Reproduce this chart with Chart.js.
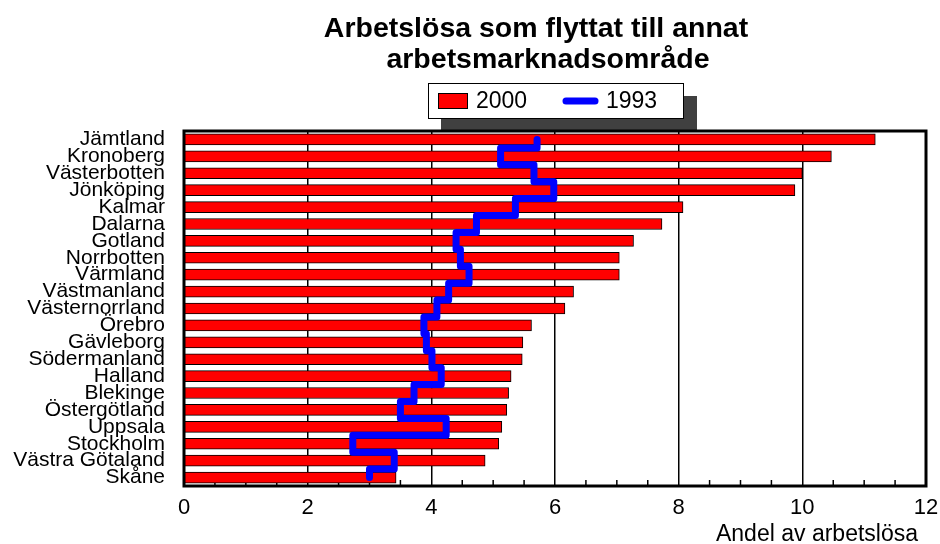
<!DOCTYPE html>
<html>
<head>
<meta charset="utf-8">
<script src="https://cdn.jsdelivr.net/npm/chart.js@4"></script>
<style>
html,body{margin:0;padding:0;background:#fff;}
#wrap{width:940px;height:544px;position:relative;}
</style>
</head>
<body>
<div id="wrap"><canvas id="c" width="940" height="544"></canvas></div>
<script>
const categories = ['Jämtland','Kronoberg','Västerbotten','Jönköping','Kalmar','Dalarna','Gotland','Norrbotten','Värmland','Västmanland','Västernorrland','Örebro','Gävleborg','Södermanland','Halland','Blekinge','Östergötland','Uppsala','Stockholm','Västra Götaland','Skåne'];
const values2000 = [11.18, 10.47, 10.0, 9.88, 8.07, 7.73, 7.27, 7.04, 7.04, 6.30, 6.16, 5.62, 5.48, 5.47, 5.29, 5.25, 5.22, 5.14, 5.09, 4.87, 3.43];
const values1993 = [5.71, 5.12, 5.66, 5.98, 5.36, 4.73, 4.40, 4.47, 4.61, 4.28, 4.09, 3.88, 3.92, 4.01, 4.16, 3.72, 3.50, 4.24, 2.73, 3.40, 3.00];
const xTickValues = [0, 2, 4, 6, 8, 10, 12];
const seriesNames = ['2000', '1993'];
const titleLines = ['Arbetslösa som flyttat till annat', 'arbetsmarknadsområde'];
const xAxisTitle = 'Andel av arbetslösa';

const FONT = '"Liberation Sans", Arial, Helvetica, sans-serif';

// bars: one per category index on a shared linear category-index axis
const barPoints = values2000.map((v, i) => ({ x: v, y: i }));
// step line for 1993: vertical across each category band, horizontal at band boundaries
const linePoints = [];
values1993.forEach((v, i) => {
  linePoints.push({ x: v, y: i === 0 ? i : i - 0.5 });
  linePoints.push({ x: v, y: i === values1993.length - 1 ? i : i + 0.5 });
});

const decor = {
  id: 'decor',
  beforeDatasetsDraw(chart) {
    const { ctx, chartArea: a, scales: { x } } = chart;
    ctx.save();
    ctx.strokeStyle = '#000';
    ctx.lineWidth = 1.5;
    for (let v = 0.5; v < xTickValues[xTickValues.length - 1]; v += 0.5) {
      if (xTickValues.includes(v)) continue;
      const px = x.getPixelForValue(v);
      ctx.beginPath();
      ctx.moveTo(px, a.bottom);
      ctx.lineTo(px, a.bottom - 6);
      ctx.stroke();
    }
    ctx.restore();
  },
  afterDraw(chart) {
    const { ctx, chartArea: a } = chart;
    ctx.save();
    // title
    ctx.fillStyle = '#000';
    ctx.font = 'bold 28.5px ' + FONT;
    ctx.textAlign = 'center';
    ctx.textBaseline = 'alphabetic';
    ctx.fillText(titleLines[0], 536, 37);
    ctx.fillText(titleLines[1], 548, 68);

    // legend shadow
    ctx.fillStyle = '#404040';
    ctx.fillRect(441, 96, 256, a.top - 96);
    // legend box
    ctx.fillStyle = '#fff';
    ctx.fillRect(428, 83, 255, 35);
    ctx.strokeStyle = '#000';
    ctx.lineWidth = 1;
    ctx.strokeRect(428.5, 83.5, 255, 35);
    // legend swatch 2000
    ctx.fillStyle = '#ff0000';
    ctx.fillRect(438, 93, 29, 15);
    ctx.strokeRect(438.5, 93.5, 29, 15);
    ctx.fillStyle = '#000';
    ctx.font = '23px ' + FONT;
    ctx.textAlign = 'left';
    ctx.textBaseline = 'middle';
    ctx.fillText(seriesNames[0], 476, 102);
    // legend line 1993
    ctx.strokeStyle = '#0000ff';
    ctx.lineWidth = 7;
    ctx.lineCap = 'round';
    ctx.beginPath();
    ctx.moveTo(566, 101);
    ctx.lineTo(595, 101);
    ctx.stroke();
    ctx.fillStyle = '#000';
    ctx.fillText(seriesNames[1], 606, 102);

    // plot frame
    ctx.lineCap = 'butt';
    ctx.strokeStyle = '#000';
    ctx.lineWidth = 3;
    ctx.strokeRect(a.left, a.top, a.right - a.left, a.bottom - a.top);

    // axis title
    ctx.font = '23px ' + FONT;
    ctx.textAlign = 'right';
    ctx.textBaseline = 'alphabetic';
    ctx.fillText(xAxisTitle, 918, 541);
    ctx.restore();
  }
};

new Chart(document.getElementById('c'), {
  type: 'bar',
  data: {
    datasets: [
      {
        type: 'line',
        label: seriesNames[1],
        data: linePoints,
        xAxisID: 'x',
        yAxisID: 'y',
        borderColor: '#0000ff',
        borderWidth: 7,
        borderJoinStyle: 'round',
        borderCapStyle: 'round',
        borderDash: [10000, 0],
        pointRadius: 0,
        fill: false,
        tension: 0,
        order: 0
      },
      {
        label: seriesNames[0],
        data: barPoints,
        xAxisID: 'x',
        yAxisID: 'y',
        backgroundColor: '#ff0000',
        borderColor: '#000',
        borderWidth: 1,
        grouped: false,
        barThickness: 11,
        order: 1
      }
    ]
  },
  options: {
    indexAxis: 'y',
    responsive: false,
    animation: false,
    devicePixelRatio: 1,
    layout: { padding: { top: 131, right: 14, bottom: 0, left: 0 } },
    plugins: { legend: { display: false }, title: { display: false }, tooltip: { enabled: false } },
    scales: {
      x: {
        type: 'linear',
        position: 'bottom',
        offset: false,
        min: xTickValues[0],
        max: xTickValues[xTickValues.length - 1],
        afterBuildTicks: s => { s.ticks = xTickValues.map(v => ({ value: v })); },
        ticks: { color: '#000', font: { family: FONT, size: 22 }, padding: 9, maxRotation: 0 },
        grid: {
          offset: false,
          drawTicks: false,
          lineWidth: 1.5,
          color: c => (c.tick && (c.tick.value === xTickValues[0] || c.tick.value === xTickValues[xTickValues.length - 1])) ? 'rgba(0,0,0,0)' : '#000'
        },
        border: { display: false },
        afterFit: s => { s.height = 58; s.paddingLeft = 0; s.paddingRight = 0; }
      },
      y: {
        type: 'linear',
        position: 'left',
        reverse: true,
        offset: false,
        min: -0.5,
        max: categories.length - 0.5,
        afterBuildTicks: s => { s.ticks = categories.map((c, i) => ({ value: i })); },
        grid: { display: false, drawTicks: false, offset: false },
        border: { display: false },
        ticks: {
          color: '#000',
          font: { family: FONT, size: 21 },
          autoSkip: false,
          padding: 19,
          callback: v => categories[v]
        },
        afterFit: s => { s.width = 184; s.paddingTop = 0; s.paddingBottom = 0; }
      }
    }
  },
  plugins: [decor]
});
</script>
</body>
</html>
